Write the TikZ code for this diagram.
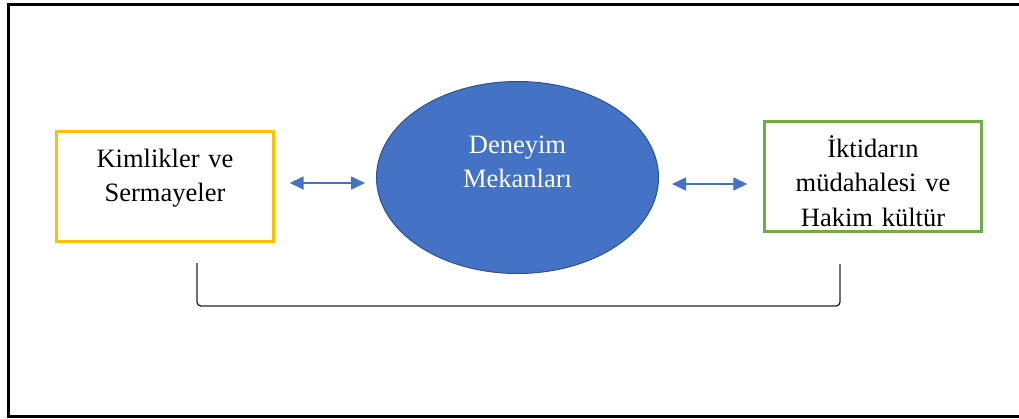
\documentclass[tikz,border=0pt]{standalone}
\usepackage{fontspec}
\setmainfont{Liberation Serif}
\usetikzlibrary{arrows.meta,shapes.geometric}
\definecolor{boxyellow}{HTML}{FFC000}
\definecolor{boxgreen}{HTML}{70AD47}
\definecolor{accentblue}{HTML}{4472C4}
\definecolor{accentedge}{HTML}{2F528F}

\begin{document}
\begin{tikzpicture}[x=1pt,y=-1pt,
  frame/.style={line width=2.4pt, black},
  panel/.style={draw, line width=2.4pt, minimum width=217pt, minimum height=110pt, inner sep=0pt},
  caption/.style={font=\fontsize{26.5}{34.5}\selectfont, text width=210pt, align=center, inner sep=0pt, anchor=base},
  link/.style={accentblue, line width=1.6pt, {Triangle[length=14pt,width=13pt]}-{Triangle[length=14pt,width=13pt]}},
  brace/.style={draw=black!85, line width=1.3pt, rounded corners=4pt}]

  \useasboundingbox (0,0) rectangle (1019,418);

  % outer frame (open on the right)
  \draw[frame] (1019,4.5) -- (8.5,4.5) -- (8.5,416.5) -- (1019,416.5);

  % the three blocks
  \node[panel, draw=boxyellow] (lbox) at (165,186.5) {};
  \node[panel, draw=boxgreen] (rbox) at (873,176.5) {};
  \node[ellipse, draw=accentedge, line width=1pt, fill=accentblue,
        minimum width=282pt, minimum height=192pt, inner sep=0pt] (ell) at (517.5,177.5) {};

  % block texts
  \node[caption] (ltext) at (165,167) {Kimlikler ve\\Sermayeler};
  \node[caption, text=white] (etext) at (517.5,153) {Deneyim\\Mekanları};
  \node[caption] (rtext) at (873,157) {İktidarın\\müdahalesi ve\\Hakim kültür};

  % two-way links
  \draw[link] ([xshift=15pt,yshift=3.5pt]lbox.east) -- ([xshift=-11pt,yshift=-5.5pt]ell.west);
  \draw[link] ([xshift=13pt,yshift=-6.5pt]ell.east) -- ([xshift=-16pt,yshift=-7.5pt]rbox.west);

  % bracket joining the outer blocks
  \coordinate (bl) at (197,263);
  \coordinate (br) at (840,264);
  \draw[brace] (bl) -- ++(0,43) -| (br);
\end{tikzpicture}
\end{document}
